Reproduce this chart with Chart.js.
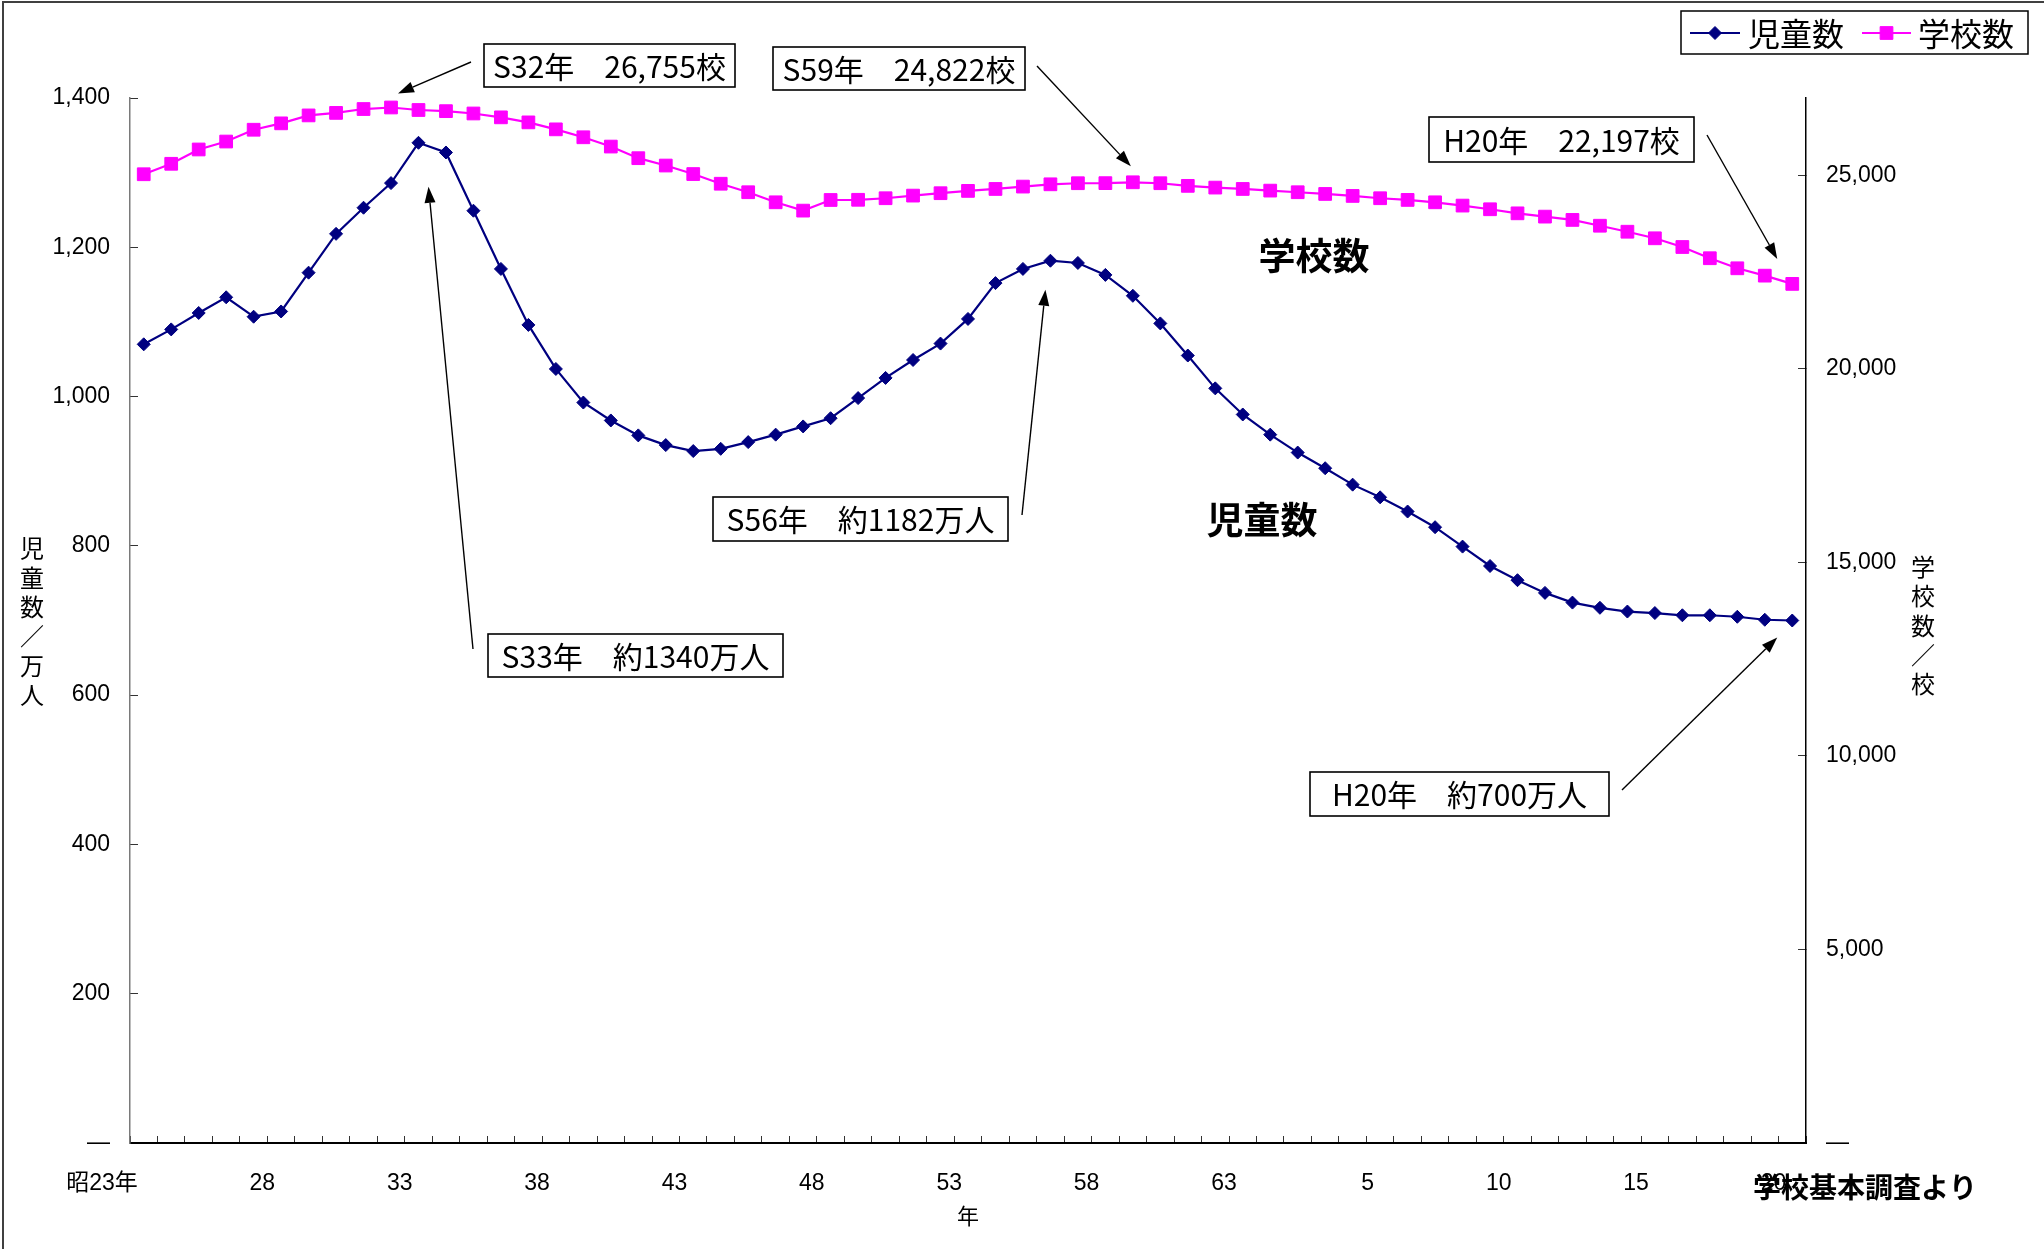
<!DOCTYPE html>
<html lang="ja">
<head>
<meta charset="utf-8">
<title>小学校の児童数と学校数の推移</title>
<script src="https://cdn.jsdelivr.net/npm/chart.js"></script>
<style>
html, body { margin: 0; padding: 0; background: #ffffff; }
canvas { display: block; }
</style>
</head>
<body>
<canvas id="chart" width="2044" height="1249"></canvas>
<script>
// 年（昭和23年〜平成20年）
const years = [
  '昭23年','24','25','26','27','28','29','30','31','32',
  '33','34','35','36','37','38','39','40','41','42',
  '43','44','45','46','47','48','49','50','51','52',
  '53','54','55','56','57','58','59','60','61','62',
  '63','元','2','3','4','5','6','7','8','9',
  '10','11','12','13','14','15','16','17','18','19',
  '20'
];

// 児童数（万人）
const pupils = [
  1070, 1090, 1112, 1133, 1107, 1114, 1166, 1218, 1253, 1286,
  1340, 1327, 1249, 1171, 1096, 1037, 992, 968, 948, 935,
  927, 930, 939, 949, 960, 971, 998, 1025, 1049, 1071,
  1104, 1152, 1171, 1182, 1179, 1163, 1135, 1098, 1055, 1011,
  976, 949, 925, 904, 882, 865, 846, 825, 799, 773,
  754, 737, 724, 717, 712, 710, 707, 707, 705, 701,
  700
];

// 学校数（校）
const schools = [
  25030, 25300, 25670, 25875, 26180, 26345, 26550, 26615, 26715, 26755,
  26690, 26660, 26600, 26500, 26370, 26190, 25985, 25745, 25445, 25255,
  25035, 24785, 24565, 24305, 24090, 24365, 24370, 24410, 24478, 24540,
  24600, 24650, 24711, 24770, 24798, 24800, 24822, 24798, 24730, 24685,
  24650, 24607, 24565, 24521, 24470, 24410, 24367, 24305, 24220, 24125,
  24020, 23935, 23850, 23700, 23545, 23375, 23150, 22860, 22600, 22410,
  22197
];

// 目盛り
const pupilTicks = [0, 200, 400, 600, 800, 1000, 1200, 1400];
const schoolTicks = [0, 5000, 10000, 15000, 20000, 25000];
const schoolAxisMax = 27000;
const labelEvery = 5;

const NAVY = '#000080';
const MAGENTA = '#FF00FF';
const NUM_FONT = "'Liberation Sans', Arial, 'Noto Sans CJK JP', sans-serif";
const JP_FONT = "'Noto Sans CJK JP', 'Liberation Sans', sans-serif";

// 吹き出し（枠の位置と、矢印の先の対象データからのずれ）
const callouts = [
  { text: 'S32年　26,755校',   ds: 1, idx: 9,  box: [484, 44, 251, 43],  from: [471, 62],   tip: [7, -14] },
  { text: 'S59年　24,822校',   ds: 1, idx: 36, box: [773, 47, 252, 43],  from: [1037, 66],  tip: [-2, -16] },
  { text: 'H20年　22,197校',   ds: 1, idx: 60, box: [1429, 117, 265, 45], from: [1707, 135], tip: [-15, -25] },
  { text: 'S56年　約1182万人', ds: 0, idx: 33, box: [713, 497, 295, 44], from: [1022, 515], tip: [-5, 29] },
  { text: 'S33年　約1340万人', ds: 0, idx: 10, box: [488, 634, 295, 43], from: [473, 649],  tip: [10, 44] },
  { text: 'H20年　約700万人',  ds: 0, idx: 60, box: [1310, 772, 299, 44], from: [1622, 790], tip: [-15, 17] }
];

// 系列名の添え書き
const seriesTags = [
  { text: '学校数', x: 1314, y: 256 },
  { text: '児童数', x: 1262, y: 520 }
];

function fmt(v) {
  return v === 0 ? '—' : v.toLocaleString('en-US');
}

function drawMarker(ctx, style, x, y, r, color) {
  ctx.save();
  ctx.fillStyle = color;
  ctx.strokeStyle = color;
  ctx.lineWidth = 1;
  ctx.beginPath();
  if (style === 'rectRot') {
    ctx.moveTo(x - r, y);
    ctx.lineTo(x, y - r);
    ctx.lineTo(x + r, y);
    ctx.lineTo(x, y + r);
    ctx.closePath();
  } else {
    const s = Math.SQRT1_2 * r;
    ctx.rect(x - s, y - s, 2 * s, 2 * s);
  }
  ctx.fill();
  ctx.stroke();
  ctx.restore();
}

function drawArrow(ctx, x1, y1, x2, y2) {
  const ang = Math.atan2(y2 - y1, x2 - x1);
  const len = 16, half = 5.5;
  const bx = x2 - len * Math.cos(ang), by = y2 - len * Math.sin(ang);
  ctx.save();
  ctx.strokeStyle = '#000';
  ctx.fillStyle = '#000';
  ctx.lineWidth = 1.4;
  ctx.beginPath();
  ctx.moveTo(x1, y1);
  ctx.lineTo(bx, by);
  ctx.stroke();
  ctx.beginPath();
  ctx.moveTo(x2, y2);
  ctx.lineTo(bx + half * Math.sin(ang), by - half * Math.cos(ang));
  ctx.lineTo(bx - half * Math.sin(ang), by + half * Math.cos(ang));
  ctx.closePath();
  ctx.fill();
  ctx.restore();
}

const decorations = {
  id: 'decorations',
  beforeDraw(chart) {
    const ctx = chart.ctx;
    ctx.save();
    ctx.fillStyle = '#ffffff';
    ctx.fillRect(0, 0, chart.width, chart.height);
    ctx.restore();
  },
  afterDraw(chart) {
    const ctx = chart.ctx;

    // 吹き出しと矢印
    callouts.forEach(c => {
      const pt = chart.getDatasetMeta(c.ds).data[c.idx];
      drawArrow(ctx, c.from[0], c.from[1], pt.x + c.tip[0], pt.y + c.tip[1]);
      const [bx, by, bw, bh] = c.box;
      ctx.save();
      ctx.fillStyle = '#ffffff';
      ctx.fillRect(bx, by, bw, bh);
      ctx.strokeStyle = '#000';
      ctx.lineWidth = 1.6;
      ctx.strokeRect(bx, by, bw, bh);
      ctx.fillStyle = '#000';
      ctx.font = `30px ${JP_FONT}`;
      ctx.textAlign = 'center';
      ctx.textBaseline = 'middle';
      ctx.fillText(c.text, bx + bw / 2, by + bh / 2 + 1);
      ctx.restore();
    });

    // 系列名
    ctx.save();
    ctx.fillStyle = '#000';
    ctx.font = `bold 37px ${JP_FONT}`;
    ctx.textAlign = 'center';
    ctx.textBaseline = 'middle';
    seriesTags.forEach(t => ctx.fillText(t.text, t.x, t.y));
    ctx.restore();

    // 縦書きの軸タイトル
    ctx.save();
    ctx.fillStyle = '#000';
    ctx.font = `24px ${JP_FONT}`;
    ctx.textAlign = 'center';
    ctx.textBaseline = 'middle';
    Array.from('児童数／万人').forEach((ch, i) => ctx.fillText(ch, 32, 548 + i * 29.4));
    Array.from('学校数／校').forEach((ch, i) => ctx.fillText(ch, 1923, 567 + i * 29.3));
    ctx.restore();

    // 凡例
    ctx.save();
    ctx.fillStyle = '#ffffff';
    ctx.fillRect(1681, 11, 347, 43);
    ctx.strokeStyle = '#000';
    ctx.lineWidth = 1.5;
    ctx.strokeRect(1681, 11, 347, 43);
    const items = [
      { ds: chart.data.datasets[0], x0: 1690, x1: 1740, tx: 1748 },
      { ds: chart.data.datasets[1], x0: 1862, x1: 1911, tx: 1918 }
    ];
    items.forEach(it => {
      ctx.strokeStyle = it.ds.borderColor;
      ctx.lineWidth = 2;
      ctx.beginPath();
      ctx.moveTo(it.x0, 33);
      ctx.lineTo(it.x1, 33);
      ctx.stroke();
      drawMarker(ctx, it.ds.pointStyle, (it.x0 + it.x1) / 2, 33, it.ds.pointRadius, it.ds.backgroundColor);
      ctx.fillStyle = '#000';
      ctx.font = `32px ${JP_FONT}`;
      ctx.textAlign = 'left';
      ctx.textBaseline = 'middle';
      ctx.fillText(it.ds.label, it.tx, 34);
    });
    ctx.restore();

    // 出典
    ctx.save();
    ctx.fillStyle = '#000';
    ctx.font = `bold 28px ${JP_FONT}`;
    ctx.textAlign = 'left';
    ctx.textBaseline = 'middle';
    ctx.fillText('学校基本調査より', 1753, 1187);
    ctx.restore();

    // 外枠
    ctx.save();
    ctx.strokeStyle = '#404040';
    ctx.lineWidth = 2;
    ctx.beginPath();
    ctx.moveTo(3, 1249);
    ctx.lineTo(3, 2);
    ctx.lineTo(2044, 2);
    ctx.stroke();
    ctx.restore();
  }
};

new Chart(document.getElementById('chart'), {
  type: 'line',
  data: {
    labels: years,
    datasets: [
      {
        label: '児童数',
        data: pupils,
        yAxisID: 'y',
        borderColor: NAVY,
        backgroundColor: NAVY,
        borderWidth: 2.2,
        pointStyle: 'rectRot',
        pointRadius: 6.5,
        pointBorderWidth: 1,
        tension: 0
      },
      {
        label: '学校数',
        data: schools,
        yAxisID: 'y1',
        borderColor: MAGENTA,
        backgroundColor: MAGENTA,
        borderWidth: 2.2,
        pointStyle: 'rect',
        pointRadius: 9,
        pointBorderWidth: 1,
        tension: 0
      }
    ]
  },
  options: {
    responsive: false,
    animation: false,
    events: [],
    layout: { padding: { top: 98, left: 0, right: 0, bottom: 0 } },
    plugins: {
      legend: { display: false },
      tooltip: { enabled: false }
    },
    scales: {
      x: {
        offset: true,
        grid: { offset: true, drawOnChartArea: false, tickLength: -7, tickColor: '#333', tickWidth: 1 },
        border: { color: '#000', width: 2 },
        ticks: {
          autoSkip: false,
          maxRotation: 0,
          minRotation: 0,
          align: 'end',
          labelOffset: -6,
          padding: 34,
          color: '#000',
          font: { family: NUM_FONT, size: 23 },
          callback: (v, i) => (i % labelEvery === 0 ? years[i] : '')
        },
        title: {
          display: true,
          text: '年',
          color: '#000',
          font: { family: JP_FONT, size: 22 },
          padding: { top: 0, bottom: 20 }
        },
        afterFit: s => { s.height = 106; }
      },
      y: {
        position: 'left',
        min: 0,
        max: 1400,
        afterBuildTicks: s => { s.ticks = pupilTicks.map(v => ({ value: v })); },
        grid: { drawOnChartArea: false, tickLength: -8, tickColor: '#333', tickWidth: 1 },
        border: { color: '#7a7a7a', width: 1.5 },
        ticks: {
          padding: 28,
          color: '#000',
          font: { family: NUM_FONT, size: 23 },
          callback: v => fmt(v)
        },
        afterFit: s => { s.width = 130; }
      },
      y1: {
        position: 'right',
        min: 0,
        max: schoolAxisMax,
        afterBuildTicks: s => { s.ticks = schoolTicks.map(v => ({ value: v })); },
        grid: { drawOnChartArea: false, tickLength: -8, tickColor: '#333', tickWidth: 1 },
        border: { color: '#000', width: 1.5 },
        ticks: {
          padding: 28,
          color: '#000',
          font: { family: NUM_FONT, size: 23 },
          callback: v => fmt(v)
        },
        afterFit: s => { s.width = 238; }
      }
    }
  },
  plugins: [decorations]
});
</script>
</body>
</html>
